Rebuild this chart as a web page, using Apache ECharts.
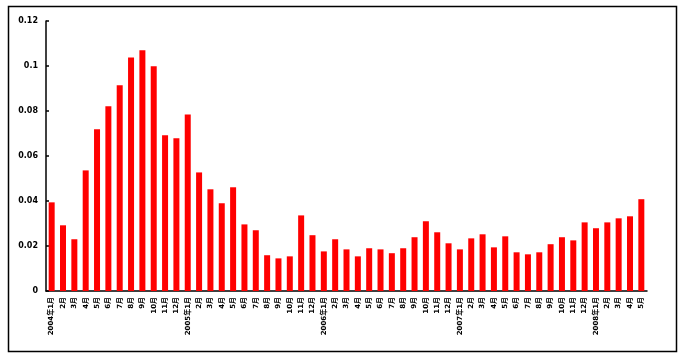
<!DOCTYPE html>
<html>
<head>
<meta charset="utf-8">
<script src="https://cdn.jsdelivr.net/npm/echarts@6/dist/echarts.min.js"></script>
<style>html,body{margin:0;padding:0;background:#fff}#c{width:683px;height:355px}</style>
</head>
<body>
<div id="c"></div>
<script>
const categories = [
  "2004年1月","2月","3月","4月","5月","6月","7月","8月","9月","10月","11月","12月",
  "2005年1月","2月","3月","4月","5月","6月","7月","8月","9月","10月","11月","12月",
  "2006年1月","2月","3月","4月","5月","6月","7月","8月","9月","10月","11月","12月",
  "2007年1月","2月","3月","4月","5月","6月","7月","8月","9月","10月","11月","12月",
  "2008年1月","2月","3月","4月","5月"
];
const values = [
  0.0394,0.0292,0.0230,0.0536,0.0719,0.0821,0.0914,0.1038,0.1070,0.0999,0.0692,0.0679,
  0.0785,0.0527,0.0452,0.0390,0.0461,0.0296,0.0270,0.0159,0.0145,0.0154,0.0336,0.0248,
  0.0176,0.0230,0.0185,0.0154,0.0190,0.0185,0.0168,0.0190,0.0239,0.0310,0.0261,0.0212,
  0.0185,0.0234,0.0252,0.0194,0.0243,0.0172,0.0163,0.0172,0.0208,0.0239,0.0225,0.0305,
  0.0279,0.0305,0.0323,0.0332,0.0408
];
const yTicks = { min: 0, max: 0.12, interval: 0.02 };

const chart = echarts.init(document.getElementById('c'), null, { renderer: 'canvas' });
chart.setOption({
  animation: false,
  backgroundColor: '#fff',
  graphic: [{
    type: 'rect', left: 6, top: 4, silent: true,
    shape: { width: 668, height: 345 },
    style: { fill: 'none', stroke: '#000', lineWidth: 1.5 }
  }],
  grid: { left: 46, right: 36, top: 21, bottom: 64, containLabel: false },
  xAxis: {
    type: 'category',
    data: categories,
    boundaryGap: true,
    axisLine: { lineStyle: { color: '#000', width: 1.5 } },
    axisTick: { inside: true, length: 3, alignWithLabel: false, interval: 0, lineStyle: { color: '#000', width: 1.5 } },
    axisLabel: { interval: 0, rotate: 90, fontSize: 7, color: '#000', fontFamily: 'DejaVu Sans, Noto Sans CJK SC', fontWeight: 'bold', margin: 6 }
  },
  yAxis: {
    type: 'value',
    min: yTicks.min, max: yTicks.max, interval: yTicks.interval,
    splitLine: { show: false },
    axisLine: { show: true, lineStyle: { color: '#000', width: 1.5 } },
    axisTick: { show: true, inside: true, length: 3, lineStyle: { color: '#000', width: 1.5 } },
    axisLabel: { fontSize: 8, color: '#000', fontFamily: 'DejaVu Sans', fontWeight: 'bold', margin: 8 }
  },
  series: [{
    type: 'bar',
    data: values,
    barWidth: 6,
    itemStyle: { color: '#FF0000' }
  }]
});
</script>
</body>
</html>
